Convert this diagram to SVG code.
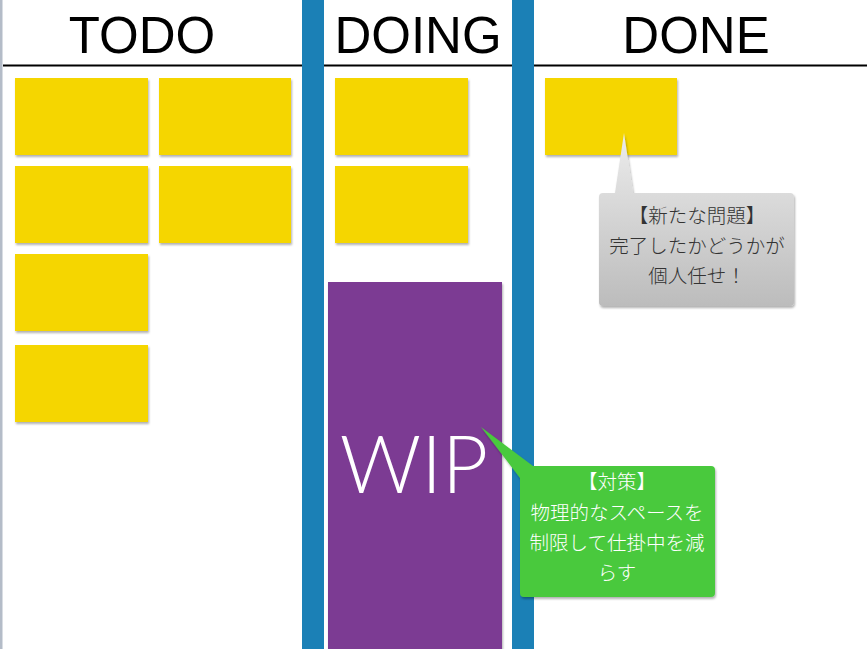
<svg xmlns="http://www.w3.org/2000/svg" width="867" height="649" viewBox="0 0 867 649">
<style>
.hdr{font-family:"Liberation Sans",Arial,sans-serif;font-size:51px;fill:#000;text-anchor:middle}
.card{fill:#f5d600;filter:url(#sh)}
.bar{fill:#1b80b6}
.jp{font-family:"Noto Sans CJK JP","Noto Sans",sans-serif;font-size:19.5px;font-weight:300;text-anchor:middle}
</style>
<defs>
<filter id="sh" x="-10%" y="-10%" width="125%" height="130%">
<feDropShadow dx="1" dy="2" stdDeviation="1" flood-color="#000" flood-opacity="0.3"/>
</filter>
<linearGradient id="gg" x1="0" y1="0" x2="0" y2="1">
<stop offset="0" stop-color="#ececec"/>
<stop offset="1" stop-color="#bcbcbc"/>
</linearGradient>
</defs>
<rect width="867" height="649" fill="#fff"/>
<rect x="0" y="0" width="2.5" height="649" fill="#b4bcc8"/>
<line x1="3" y1="65.5" x2="867" y2="65.5" stroke="#000" stroke-width="2"/>
<g id="headers">
<text class="hdr" x="142" y="53">TODO</text>
<text class="hdr" x="418" y="53">DOING</text>
<text class="hdr" x="696" y="53">DONE</text>
</g>
<g id="bars">
<rect class="bar" x="302" y="0" width="22" height="649"/>
<rect class="bar" x="512" y="0" width="22" height="649"/>
</g>
<g id="todo">
<rect class="card" x="15" y="78" width="133" height="77"/>
<rect class="card" x="159" y="78" width="132" height="77"/>
<rect class="card" x="15" y="166" width="133" height="77"/>
<rect class="card" x="159" y="166" width="132" height="77"/>
<rect class="card" x="15" y="254" width="133" height="77"/>
<rect class="card" x="15" y="345" width="133" height="77"/>
</g>
<g id="doing">
<rect class="card" x="335" y="78" width="133" height="77"/>
<rect class="card" x="335" y="166" width="133" height="77"/>
</g>
<g id="done">
<rect class="card" x="545" y="78" width="132" height="77"/>
</g>
<g id="wip">
<rect x="328" y="282" width="174" height="367" fill="#7b3a93" filter="url(#sh)"/>
<text x="414" y="493" font-family="Lato,'Liberation Sans',sans-serif" font-weight="300" font-size="80" fill="#fff" text-anchor="middle">WIP</text>
</g>
<g id="callout-problem">
<path d="M603,193 H615 L624,133 L633,193 H790 Q794,193 794,197 V302 Q794,306 790,306 H603 Q599,306 599,302 V197 Q599,193 603,193 Z" fill="url(#gg)" filter="url(#sh)"/>
<text class="jp" x="697" y="222.5" fill="#333">【新たな問題】</text>
<text class="jp" x="697" y="252.5" fill="#333">完了したかどうかが</text>
<text class="jp" x="697" y="282.5" fill="#333">個人任せ！</text>
</g>
<g id="callout-measure">
<path d="M524,466 H533 L481,427 L520,478 V593 Q520,597 524,597 H711 Q715,597 715,593 V470 Q715,466 711,466 H533" fill="#49c93d" filter="url(#sh)"/>
<text class="jp" x="617" y="489" fill="#fff">【対策】</text>
<text class="jp" x="617" y="520" fill="#fff">物理的なスペースを</text>
<text class="jp" x="617" y="550" fill="#fff">制限して仕掛中を減</text>
<text class="jp" x="617" y="579.5" fill="#fff">らす</text>
</g>
</svg>
